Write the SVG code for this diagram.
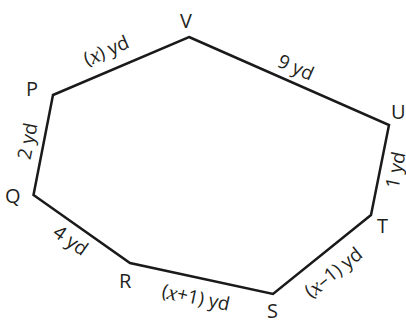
<svg xmlns="http://www.w3.org/2000/svg" width="406" height="320" viewBox="0 0 406 320">
<style>
.edge{fill:none;stroke:#1a1a1a;stroke-width:2.5;stroke-linejoin:miter}
.v{font-family:"Open Sans","Liberation Sans",sans-serif;font-size:20px;fill:#231f20}
.e{font-family:"Open Sans","Liberation Sans",sans-serif;font-size:19px;fill:#231f20;text-anchor:middle;dominant-baseline:central}
.x{font-family:"Liberation Serif",serif;font-style:italic;font-size:22px}
</style>
<rect width="406" height="320" fill="#fff"/>
<g id="connectors">
<polygon class="edge" points="189,37 389,125 371,215 273,294 130,263 33.5,195 53,95"/>
</g>
<g id="V"><text class="v" x="180" y="28">V</text></g>
<g id="U"><text class="v" x="391" y="119">U</text></g>
<g id="T"><text class="v" x="377" y="233">T</text></g>
<g id="S"><text class="v" x="267" y="318">S</text></g>
<g id="R"><text class="v" x="119" y="288">R</text></g>
<g id="Q"><text class="v" x="5" y="203">Q</text></g>
<g id="P"><text class="v" x="26" y="96">P</text></g>
<g id="labels">
<text class="e" transform="translate(106,50) rotate(-23)">(<tspan class="x">x</tspan>) yd</text>
<text class="e" transform="translate(296,67) rotate(23.7)">9 yd</text>
<text class="e" transform="translate(395,170) rotate(-78.4)">1 yd</text>
<text class="e" transform="translate(333,272) rotate(-38.6)">(<tspan class="x">x</tspan>–1) yd</text>
<text class="e" transform="translate(196,297) rotate(12.1)">(<tspan class="x">x</tspan>+1) yd</text>
<text class="e" transform="translate(71,240) rotate(35.2)">4 yd</text>
<text class="e" transform="translate(27,141) rotate(-78.7)">2 yd</text>
</g>
</svg>
